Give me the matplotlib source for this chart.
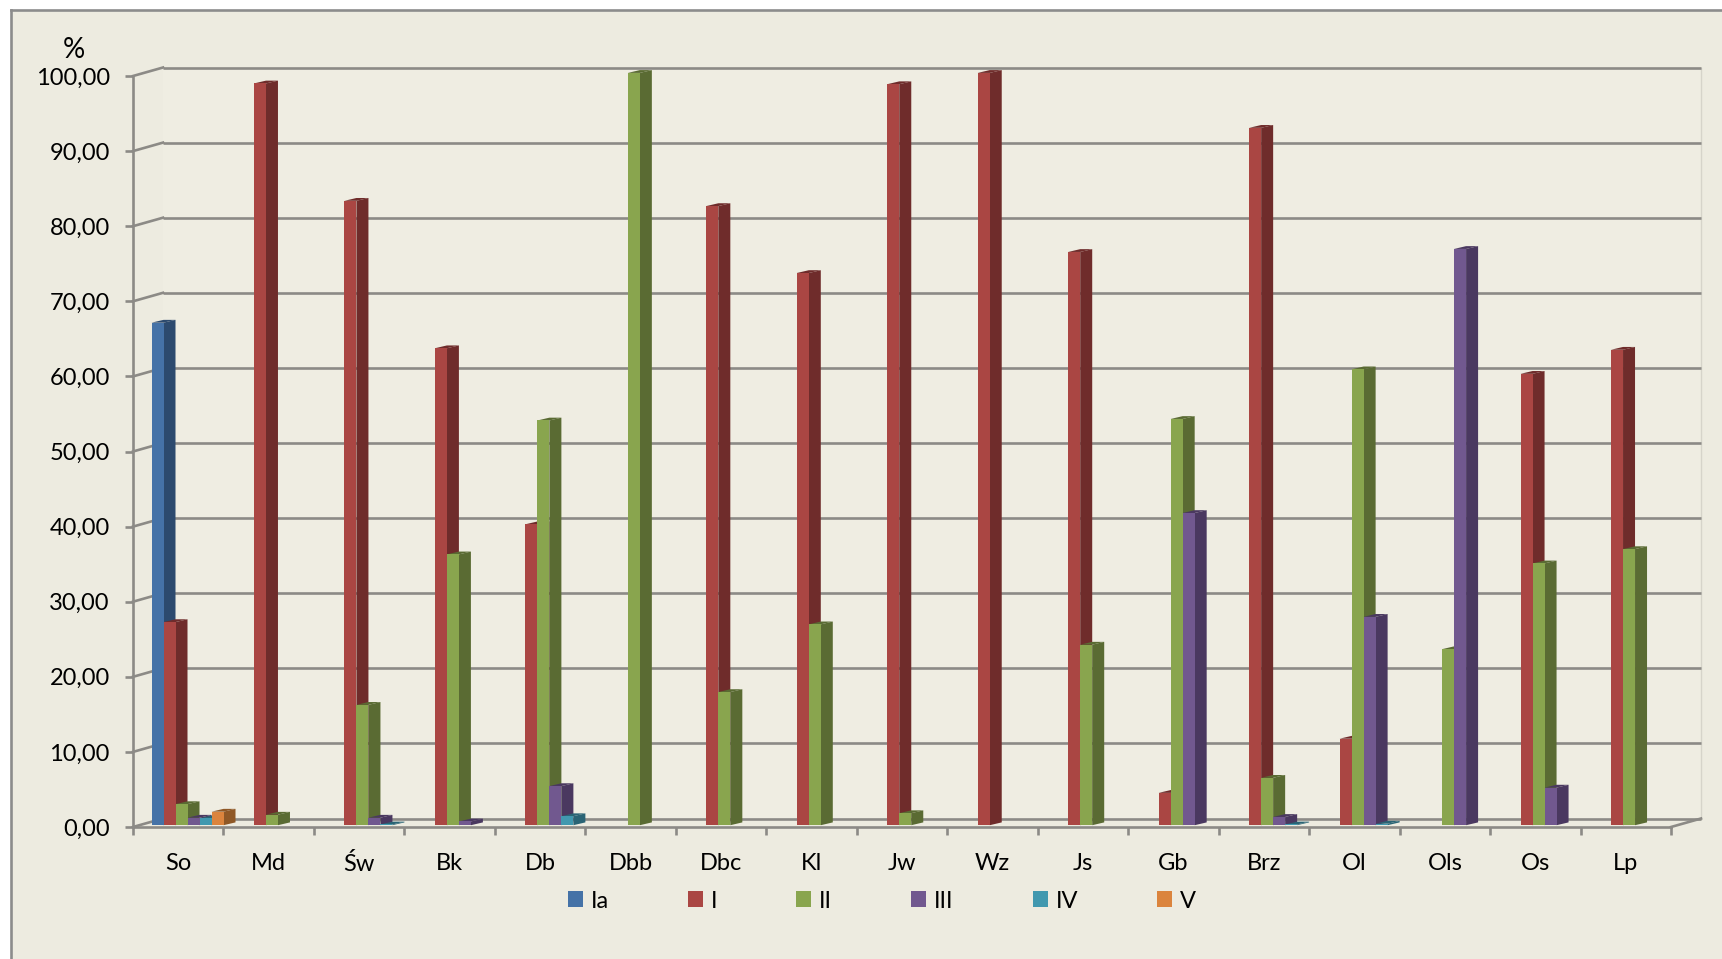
import matplotlib
matplotlib.use('Agg')
import matplotlib.pyplot as plt
from matplotlib.patches import Rectangle, Polygon

plt.rcParams['font.family'] = ['Lato', 'DejaVu Sans']

categories = ['So', 'Md', 'Św', 'Bk', 'Db', 'Dbb', 'Dbc', 'Kl', 'Jw', 'Wz', 'Js', 'Gb', 'Brz', 'Ol', 'Ols', 'Os', 'Lp']
names = ['Ia', 'I', 'II', 'III', 'IV', 'V']

# percent share per class, one list per class
ia = [66.8, 0, 0, 0, 0, 0, 0, 0, 0, 0, 0, 0, 0, 0, 0, 0, 0]
i = [27.0, 98.6, 83.0, 63.4, 40.0, 0, 82.3, 73.4, 98.5, 100.0, 76.2, 4.3, 92.7, 11.5, 0, 60.0, 63.2]
ii = [2.8, 1.4, 16.0, 36.0, 53.8, 100.0, 17.7, 26.7, 1.6, 0, 24.0, 54.0, 6.3, 60.6, 23.4, 34.8, 36.7]
iii = [1.0, 0, 1.0, 0.5, 5.2, 0, 0, 0, 0, 0, 0, 41.5, 1.1, 27.7, 76.6, 5.0, 0]
iv = [0.9, 0, 0.1, 0, 1.2, 0, 0, 0, 0, 0, 0, 0, 0.1, 0.2, 0, 0, 0]
v = [1.8, 0, 0, 0, 0, 0, 0, 0, 0, 0, 0, 0, 0, 0, 0, 0, 0]
series = [ia, i, ii, iii, iv, v]

front = ['#4572a7', '#aa4643', '#89a54e', '#71588f', '#4198af', '#db843d']
side = ['#2c4a6e', '#6f2c2b', '#5a6b33', '#4a3860', '#2a6475', '#8f5826']

W, H = 1722, 959
GRID = '#8c8a86'
BG = '#edebe0'

fig = plt.figure(figsize=(W / 100, H / 100), dpi=100, facecolor='white')

# panel and its frame, only top and left are visible
fig.add_artist(Rectangle((11 / W, 0), 1 - 11 / W, 1 - 10 / H, transform=fig.transFigure, fc=BG, ec='none', zorder=-2))
fig.add_artist(plt.Line2D([11 / W, 11 / W], [0, 1 - 10 / H], color='#8c8c8c', lw=1.9, zorder=-1))
fig.add_artist(plt.Line2D([11 / W, 1], [1 - 10 / H, 1 - 10 / H], color='#8c8c8c', lw=1.9, zorder=-1))

ax = fig.add_axes([133 / W, 1 - 827 / H, (1671 - 133) / W, (827 - 76) / H])
ax.patch.set_visible(False)
ax.set_xlim(0, 17)
ax.set_ylim(0, 100)

px = 17 / (1671 - 133)    # one pixel in x data units
py = 100 / (827 - 76)     # one pixel in y data units
back_x, back_y = 30 * px, 8.5 * py
bar_w = 12 * px
depth_x, depth_y = 12 * px, 2.8 * py
gap = 18.5 * px
base = 1.8 * py
bar_scale = 752.3 / 751   # bars stand a bit in front of the axis plane

# back wall, with only a thin line on its right side
ax.add_patch(Rectangle((back_x, back_y), 17, 100, fc='#efede2', ec='none', clip_on=False, zorder=0.5))
ax.plot([17 + back_x, 17 + back_x], [back_y, 100 + back_y], color='#d6d4ca', lw=1, clip_on=False, zorder=0.6)
ticks = list(range(0, 101, 10))
for t in ticks:
    ax.plot([back_x, 17 + back_x], [t + back_y, t + back_y], color=GRID, lw=1.9, clip_on=False, zorder=1, solid_capstyle='butt')
    ax.plot([0, back_x], [t, t + back_y], color=GRID, lw=1.9, clip_on=False, zorder=1)
ax.plot([17, 17 + back_x], [0, back_y], color=GRID, lw=1.9, clip_on=False, zorder=1)

# bars, left to right so the next front face hides the side of the last one
z = 3
for c in range(len(categories)):
    for s in range(len(series)):
        val = series[s][c]
        if val == 0:
            continue
        x = c + gap + s * bar_w
        h = val * bar_scale
        top = base + h
        ax.add_patch(Polygon([(x + bar_w, base), (x + bar_w, top), (x + bar_w + depth_x, top + depth_y), (x + bar_w + depth_x, base + depth_y)],
                             fc=side[s], ec='none', clip_on=False, zorder=z))
        ax.add_patch(Polygon([(x, top), (x + bar_w, top), (x + bar_w + depth_x, top + depth_y), (x + depth_x, top + depth_y)],
                             fc=side[s], ec='none', clip_on=False, zorder=z))
        ax.bar(x, h, bar_w, bottom=base, align='edge', color=front[s], clip_on=False, zorder=z + 0.1)
        z += 0.2

for sp in ['top', 'right']:
    ax.spines[sp].set_visible(False)
for sp in ['left', 'bottom']:
    ax.spines[sp].set_color(GRID)
    ax.spines[sp].set_linewidth(1.9)
    ax.spines[sp].set_zorder(2)

ax.set_yticks(ticks)
ax.set_yticklabels([f'{t:.2f}'.replace('.', ',') for t in ticks], fontsize=17, color='black')
ax.tick_params(axis='y', length=5.8, width=1.9, color=GRID, pad=11)
ax.set_xticks(range(18))
ax.set_xticklabels([])
ax.tick_params(axis='x', which='major', length=5.8, width=1.9, color=GRID)
ax.set_xticks([c + 0.5 for c in range(17)], minor=True)
ax.set_xticklabels(categories, minor=True, fontsize=17, color='black')
ax.tick_params(axis='x', which='minor', length=0, pad=18.5)

fig.text(74 / W, 1 - 50 / H, '%', fontsize=20, ha='center', va='center', color='black')

# legend from a proxy per class
handles = [Rectangle((0, 0), 1, 1, fc=f, ec='none') for f in front]
ax.legend(handles, names, ncol=6, loc='center', bbox_to_anchor=(882 / W, 1 - 901 / H),
          bbox_transform=fig.transFigure, frameon=False, fontsize=17, handlelength=0.64, handleheight=0.64,
          handletextpad=0.33, columnspacing=3.35, borderpad=0, borderaxespad=0)

fig.savefig('out.png', dpi=100, facecolor=fig.get_facecolor())
